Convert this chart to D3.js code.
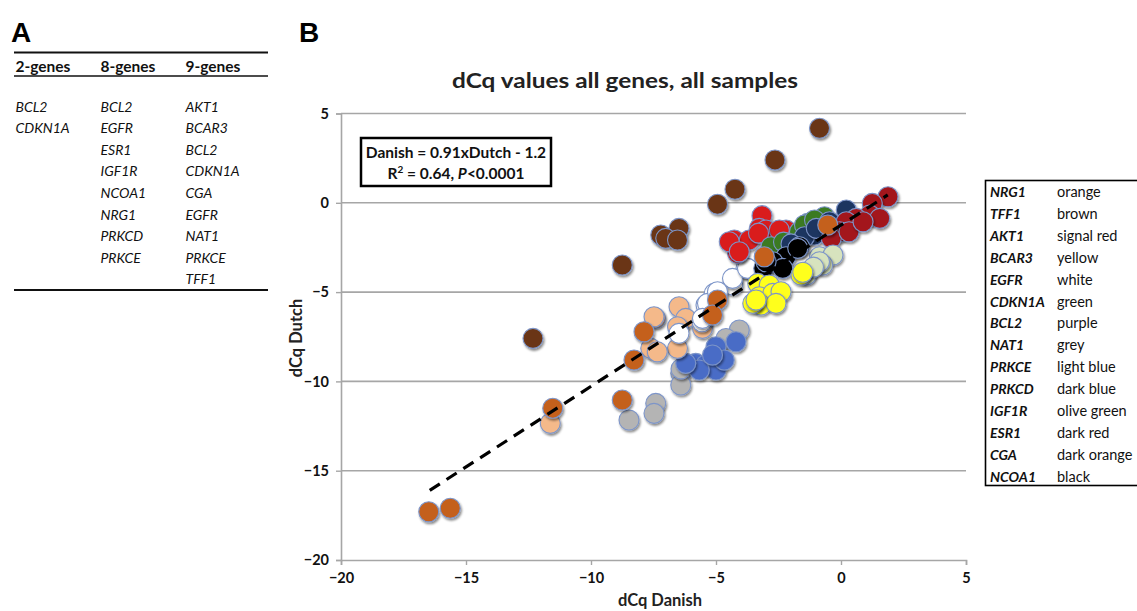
<!DOCTYPE html>
<html>
<head>
<meta charset="utf-8">
<script src="https://cdn.jsdelivr.net/npm/d3@7"></script>
<style>
  html, body { margin: 0; padding: 0; background: #fff; }
  svg { display: block; font-family: Lato, "Open Sans", sans-serif; }
</style>
</head>
<body>
<svg id="chart" width="1137" height="611"></svg>
<script>
// ---------- DATA ([dCq Danish, dCq Dutch]) ----------
const geneOrder = ["NRG1","TFF1","AKT1","BCAR3","EGFR","CDKN1A","BCL2","NAT1","PRKCE","PRKCD","IGF1R","ESR1","CGA","NCOA1"];
const colourNames = ["orange","brown","signal red","yellow","white","green","purple","grey","light blue","dark blue","olive green","dark red","dark orange","black"];
const xTicks = [-20,-15,-10,-5,0,5];
const yTicks = [-20,-15,-10,-5,0,5];

const NRG1 = [[-7.42,-6.47],[-6.48,-5.82],[-6.21,-6.47],[-6.54,-6.94],[-5.54,-7.03],[-6.54,-8.15],[-7.61,-8.15],[-7.35,-8.34],[-11.63,-12.35],[-7.48,-6.38]];
const TFF1 = [[-0.86,4.17],[-2.64,2.4],[-4.24,0.76],[-4.94,-0.08],[-6.48,-1.43],[-7.21,-1.8],[-7.01,-1.99],[-6.54,-2.08],[-8.75,-3.48],[-12.32,-7.59]];
const AKT1 = [[-3.16,-0.72],[-3.27,-1.43],[-2.8,-1.8],[-2.2,-1.52],[-4.27,-2.08],[-3.67,-2.08],[-4.14,-2.83],[-4.47,-2.18],[-4.07,-2.74],[-3.0,-1.52],[-2.47,-1.52],[-3.3,-1.7]];
const BCAR3 = [[-1.6,-4.04],[-3.33,-4.51],[-2.87,-4.6],[-3.27,-5.26],[-2.73,-5.07],[-2.4,-4.98],[-3.2,-5.72],[-2.6,-5.63],[-3.53,-5.63],[-1.53,-3.89],[-3.4,-5.44]];
const EGFR = [[-4.33,-4.6],[-5.4,-5.72],[-5.56,-6.66],[-6.48,-7.31],[-5.07,-5.07],[-3.8,-3.67],[-4.34,-4.23],[-3.74,-3.67],[-5.34,-5.63],[-4.94,-4.98],[-5.54,-6.47]];
const CDKN1A = [[-1.33,-1.15],[-0.73,-0.87],[-2.8,-2.46],[-1.66,-1.62],[-0.66,-0.78],[-1.46,-1.24],[-1.06,-0.96],[-2.3,-2.2]];
const BCL2 = [];
const NAT1 = [[-4.07,-7.12],[-6.41,-9.55],[-6.41,-10.2],[-7.41,-11.23],[-7.48,-11.79],[-8.48,-12.16],[-6.4,-9.3],[-4.6,-7.6]];
const PRKCE = [[-5.0,-8.06],[-4.2,-7.78],[-5.81,-8.99],[-5.41,-9.08],[-5.0,-9.36],[-4.67,-8.8],[-5.67,-9.36],[-5.14,-8.52],[-6.21,-8.99]];
const PRKCD = [[0.21,-0.4],[-1.06,-1.8],[-1.46,-1.9],[-0.99,-1.43],[-0.46,-1.06],[-2.0,-2.3]];
const IGF1R = [[-0.86,-3.02],[-0.32,-2.92],[-0.73,-3.48],[-1.39,-3.86],[-0.86,-3.3],[-1.39,-4.04],[-1.1,-3.6]];
const ESR1 = [[1.88,0.34],[1.25,-0.03],[1.15,-0.68],[1.55,-0.87],[0.61,-0.87],[0.21,-1.06],[-0.06,-1.62],[-0.39,-1.99],[0.32,-1.62],[0.88,-1.06]];
const CGA = [[-7.88,-7.22],[-8.28,-8.8],[-4.94,-5.44],[-5.14,-6.28],[-8.75,-11.04],[-11.53,-11.5],[-16.49,-17.3],[-15.63,-17.1],[-3.07,-3.02],[-0.53,-1.24]];
const NCOA1 = [[-3.09,-3.67],[-2.2,-3.02],[-1.66,-2.46],[-2.73,-3.3],[-2.33,-3.67],[-1.73,-2.55],[-3.0,-3.3]];
const trendEnds = [[-16.45,-16.1],[1.87,0.44]];

const twoGenes = ["BCL2","CDKN1A"];
const eightGenes = ["BCL2","EGFR","ESR1","IGF1R","NCOA1","NRG1","PRKCD","PRKCE"];
const nineGenes = ["AKT1","BCAR3","BCL2","CDKN1A","CGA","EGFR","NAT1","PRKCE","TFF1"];

// ---------- styles ----------
const fills = {NRG1:"#F4B98A",TFF1:"#6B3612",AKT1:"#D91A1F",BCAR3:"#FFFF1E",EGFR:"#FFFFFF",CDKN1A:"#3B7A22",
  BCL2:"#7030A0",NAT1:"#B4B4B4",PRKCE:"#4A6CC6",PRKCD:"#1F3461",IGF1R:"#D7E3BE",ESR1:"#A3161B",CGA:"#C4601D",NCOA1:"#000000"};
const seriesData = {NRG1,TFF1,AKT1,BCAR3,EGFR,CDKN1A,BCL2,NAT1,PRKCE,PRKCD,IGF1R,ESR1,CGA,NCOA1};
const drawOrder = ["NAT1","PRKCE","NRG1","EGFR","TFF1","AKT1","CDKN1A","PRKCD","ESR1","IGF1R","NCOA1","BCAR3","BCL2","CGA"];

const svg = d3.select("#chart");
const defs = svg.append("defs");
const f = defs.append("filter").attr("id","sh").attr("x","-50%").attr("y","-50%").attr("width","200%").attr("height","200%");
f.append("feDropShadow").attr("dx",1.2).attr("dy",2).attr("stdDeviation",1.3).attr("flood-color","#000").attr("flood-opacity",0.45);

// ---------- Panel A ----------
svg.append("text").attr("x",11).attr("y",42).attr("font-family","Liberation Sans, Arial, sans-serif")
  .attr("font-weight","bold").attr("font-size",28).text("A");
svg.append("text").attr("x",299).attr("y",42).attr("font-family","Liberation Sans, Arial, sans-serif")
  .attr("font-weight","bold").attr("font-size",28).text("B");

const tA = svg.append("g");
tA.append("line").attr("x1",14).attr("x2",268).attr("y1",52.5).attr("y2",52.5).attr("stroke","#111").attr("stroke-width",2);
tA.append("line").attr("x1",14).attr("x2",268).attr("y1",76).attr("y2",76).attr("stroke","#111").attr("stroke-width",1.5);
tA.append("line").attr("x1",14).attr("x2",268).attr("y1",290).attr("y2",290).attr("stroke","#111").attr("stroke-width",2);
const colX = [15.5,100.5,185.5];
const heads = ["2-genes","8-genes","9-genes"];
const cols = [twoGenes,eightGenes,nineGenes];
heads.forEach((h,i)=>{
  tA.append("text").attr("x",colX[i]).attr("y",71.5).attr("font-weight","bold").attr("font-size",15.5).attr("fill","#111").text(h);
  tA.selectAll(null).data(cols[i]).join("text")
    .attr("x",colX[i]).attr("y",(d,j)=>111.5+j*21.6)
    .attr("font-style","italic").attr("font-size",14).attr("fill","#111").text(d=>d);
});

// ---------- Panel B ----------
const x = d3.scaleLinear().domain([-20,5]).range([341,966]);
const y = d3.scaleLinear().domain([-20,5]).range([560,113.5]);

const grid = svg.append("g");
grid.selectAll("line.g").data(yTicks.filter(v=>v>-20)).join("line")
  .attr("x1",x(-20)).attr("x2",x(5)).attr("y1",d=>y(d)).attr("y2",d=>y(d))
  .attr("stroke","#a6a6a6").attr("stroke-width",1.6);

const xAxis = svg.append("g").attr("transform",`translate(0,${y(-20)})`)
  .call(d3.axisBottom(x).tickValues(xTicks).tickSize(5).tickFormat(d3.format("d")));
const yAxis = svg.append("g").attr("transform",`translate(${x(-20)},0)`)
  .call(d3.axisLeft(y).tickValues(yTicks).tickSize(5).tickFormat(d3.format("d")));
[xAxis,yAxis].forEach(a=>{
  a.select(".domain").attr("stroke","#a6a6a6").attr("stroke-width",1.6);
  a.selectAll(".tick line").attr("stroke","#a6a6a6").attr("stroke-width",1.4);
  a.selectAll(".tick text").attr("font-family","Lato, sans-serif").attr("font-weight","bold").attr("font-size",14.5).attr("fill","#111");
});
xAxis.selectAll(".tick text").attr("dy","1.05em");
yAxis.selectAll(".tick text").attr("x",-12);

svg.append("text").attr("x",625).attr("y",88).attr("text-anchor","middle")
  .attr("font-weight","bold").attr("font-size",21).attr("fill","#222")
  .attr("textLength",346).attr("lengthAdjust","spacingAndGlyphs")
  .text("dCq values all genes, all samples");
svg.append("text").attr("x",660).attr("y",606).attr("text-anchor","middle")
  .attr("font-weight","bold").attr("font-size",16.5).attr("fill","#222").text("dCq Danish");
svg.append("text").attr("transform","translate(302,338) rotate(-90)").attr("text-anchor","middle")
  .attr("font-weight","bold").attr("font-size",16.5).attr("fill","#222").text("dCq Dutch");

// points
const pts = svg.append("g");
drawOrder.forEach(g=>{
  pts.append("g").selectAll("circle").data(seriesData[g]).join("circle")
    .attr("cx",d=>x(d[0])).attr("cy",d=>y(d[1])).attr("r",10)
    .attr("fill",fills[g]).attr("stroke","#7d95c9").attr("stroke-width",1.1)
    .attr("filter","url(#sh)");
});

// trend line
svg.append("line")
  .attr("x1",x(trendEnds[0][0])).attr("y1",y(trendEnds[0][1]))
  .attr("x2",x(trendEnds[1][0])).attr("y2",y(trendEnds[1][1]))
  .attr("stroke","#000").attr("stroke-width",3.2).attr("stroke-dasharray","12,8");

// equation box
const eq = svg.append("g");
eq.append("rect").attr("x",361).attr("y",138).attr("width",190).attr("height",48)
  .attr("fill","#fff").attr("stroke","#000").attr("stroke-width",2.5);
eq.append("text").attr("x",456).attr("y",157.5).attr("text-anchor","middle").attr("font-weight","bold")
  .attr("font-size",15.5).attr("fill","#111").text("Danish = 0.91xDutch - 1.2");
const l2 = eq.append("text").attr("x",456).attr("y",178.5).attr("text-anchor","middle").attr("font-weight","bold")
  .attr("font-size",15.5).attr("fill","#111");
l2.append("tspan").text("R");
l2.append("tspan").attr("font-size",10).attr("dy",-6).text("2");
l2.append("tspan").attr("dy",6).text(" = 0.64, ");
l2.append("tspan").attr("font-style","italic").text("P");
l2.append("tspan").text("<0.0001");

// legend box
const lg = svg.append("g");
lg.append("rect").attr("x",985.5).attr("y",180.5).attr("width",160).attr("height",305)
  .attr("fill","#fff").attr("stroke","#000").attr("stroke-width",1.6);
geneOrder.forEach((g,i)=>{
  const yy = 197 + i*21.9;
  lg.append("text").attr("x",990).attr("y",yy).attr("font-weight","bold").attr("font-style","italic")
    .attr("font-size",14).attr("fill","#111").text(g);
  lg.append("text").attr("x",1057).attr("y",yy).attr("font-size",14.5).attr("fill","#111").text(colourNames[i]);
});
</script>
</body>
</html>
